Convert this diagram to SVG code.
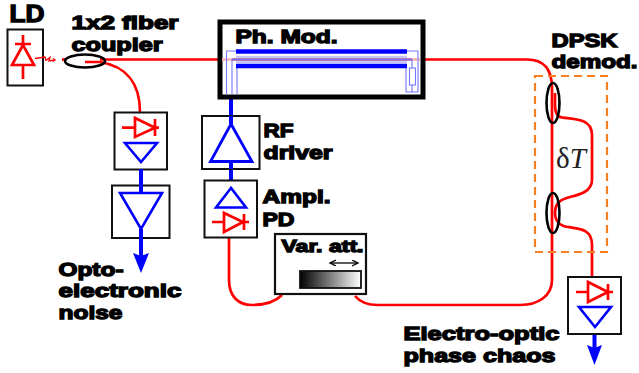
<svg xmlns="http://www.w3.org/2000/svg" width="639" height="373" viewBox="0 0 639 373">
<style>
.box{fill:#fff;stroke:#111;stroke-width:2}
.fr{fill:none;stroke:#f00;stroke-width:2.700}
.fb{fill:none;stroke:#00f;stroke-width:2.600}
.bb{fill:none;stroke:#00f;stroke-width:4}
.th{fill:none;stroke:#7577ff;stroke-width:1.100}
.cp{fill:none;stroke:#000;stroke-width:2.600}
.l{font-family:"Liberation Sans",Arial,sans-serif;font-weight:bold;font-size:18.500px;fill:#000;stroke:#000;stroke-width:1.300}
</style>
<defs>
<linearGradient id="g" x1="0" x2="1" y1="0" y2="0"><stop offset="0" stop-color="#000"/><stop offset="1" stop-color="#fff"/></linearGradient>
<marker id="ah" markerWidth="8" markerHeight="8" refX="6" refY="3" orient="auto-start-reverse" markerUnits="userSpaceOnUse"><path d="M0 0L6 3L0 6" fill="none" stroke="#000" stroke-width="1.300"/></marker>
</defs>
<g id="connectors">
<path class="fr" d="M100 59.500H527C543 59.500 552 68 552 88V280C552 296 538 305 520 305H378C367 305 360 302 355 296"/>
<path class="fr" d="M229 238V280C229 296 238 305 252 305C265 305 275 302 282 295"/>
<path class="fr" d="M85 62H100C125 66 140 82 140 112"/>
<path class="fr" d="M62 59.500H65"/>
<path class="fr" d="M555 93V105C555 113 558 117 562 117.500C578 119 592 120 592 135V180C592 192 578 195 570 197C562 199 555 202 555 213C555 221 560 226 568 227C582 229 592 230 592 245V278"/>
<path class="bb" d="M141 169V193M141 229V256"/>
<path d="M133 253L141 256L149 253L141 273Z" fill="#00f"/>
<path class="bb" d="M231 97V124M231 161V181"/>
<path class="bb" d="M594.500 334V348"/>
<path d="M587 345L594.500 348L602 345L594.500 365Z" fill="#00f"/>
</g>
<g id="ld">
<rect class="box" x="7.500" y="29.500" width="35.500" height="56"/>
<path class="fr" d="M23 35V45M15 44H31M23 45L12 65H34ZM23 65V79"/>
<path d="M35 58.500L45 57L46 60.500L50 57.500L49 61L55 60M53 58.500L55 60L53 61.500" fill="none" stroke="#f00" stroke-width="1.300"/>
<text class="l" x="9.500" y="22" style="font-size:23px" textLength="35" lengthAdjust="spacingAndGlyphs">LD</text>
</g>
<g id="coupler1">
<ellipse class="cp" cx="85" cy="61" rx="20" ry="6.500"/>
<text class="l" x="71.500" y="29" textLength="107" lengthAdjust="spacingAndGlyphs">1x2 fiber</text>
<text class="l" x="71.500" y="50.500" textLength="91" lengthAdjust="spacingAndGlyphs">coupler</text>
</g>
<g id="pd1">
<rect class="box" x="114.500" y="112.500" width="52.500" height="57"/>
<path class="fr" d="M122 127.700H135M135 118V137L155 127.700ZM155 119V136M155 127.700H159"/>
<path class="fb" d="M125 143H157L141 162Z"/>
</g>
<g id="amp1">
<rect class="box" x="112" y="185.500" width="57.500" height="52.500"/>
<path d="M141 169V193" class="bb"/>
<path class="fb" d="M120 193H162L141 229Z"/>
</g>
<g id="noise-label">
<path class="bb" d="M141 229V256"/>
<text class="l" x="58.500" y="276" textLength="65" lengthAdjust="spacingAndGlyphs">Opto-</text>
<text class="l" x="58.500" y="297" textLength="123" lengthAdjust="spacingAndGlyphs">electronic</text>
<text class="l" x="58.500" y="319" textLength="64" lengthAdjust="spacingAndGlyphs">noise</text>
</g>
<g id="modulator">
<rect x="220" y="22" width="203" height="75" fill="#fff" stroke="#000" stroke-width="5"/>
<path d="M222 59.500H420" stroke="#f7b0b0" stroke-width="2.500" fill="none"/>
<path d="M236 57H407M236 62H407" stroke="#c6c6ff" stroke-width="2.500" fill="none"/>
<path d="M232 59.500H412" stroke="#8a2a9a" stroke-width="2.200" fill="none"/>
<path class="th" d="M226.500 94V51H236M232 94V59.500H412V68M237 94V66M407 51H418V92H406V66M412 85V92"/>
<rect x="409.500" y="68" width="6" height="17" fill="#fff" stroke="#7577ff" stroke-width="1.100"/>
<path class="bb" d="M236 51.500H407M236 66H407" style="stroke-width:4.600"/>
<text class="l" x="235.500" y="43" textLength="102" lengthAdjust="spacingAndGlyphs">Ph. Mod.</text>
</g>
<g id="rf-driver">
<rect class="box" x="202" y="116" width="57.500" height="53"/>
<path class="bb" d="M231 116V124"/>
<path class="fb" d="M231 124L210.500 161.500H252Z" style="stroke-width:2.800"/>
<path class="bb" d="M231 161.500V169"/>
<text class="l" x="263.500" y="137" textLength="30" lengthAdjust="spacingAndGlyphs">RF</text>
<text class="l" x="263.500" y="159" textLength="69" lengthAdjust="spacingAndGlyphs">driver</text>
</g>
<g id="pd2">
<rect class="box" x="204.500" y="180.500" width="52.500" height="57"/>
<path class="fb" d="M231 188L216 207.500H246Z"/>
<path class="fr" d="M212 222H224M224 213V232L243 222ZM244 214V230M244 222H249"/>
<text class="l" x="262.500" y="203" textLength="68" lengthAdjust="spacingAndGlyphs">Ampl.</text>
<text class="l" x="262.500" y="226" textLength="32" lengthAdjust="spacingAndGlyphs">PD</text>
</g>
<g id="attenuator">
<rect x="275" y="234" width="91" height="60" fill="#fff" stroke="#111" stroke-width="2.200"/>
<rect x="300" y="271" width="61" height="17" fill="url(#g)" stroke="#111" stroke-width="1.800"/>
<path d="M330 263H358" stroke="#000" stroke-width="1.300" fill="none" marker-start="url(#ah)" marker-end="url(#ah)"/>
<text class="l" x="281.500" y="252" textLength="82" lengthAdjust="spacingAndGlyphs" style="font-size:17px">Var. att.</text>
</g>
<g id="demod">
<rect x="535" y="76" width="72" height="176" fill="none" stroke="#f77f1f" stroke-width="2.200" stroke-dasharray="8 5"/>
<ellipse class="cp" cx="553" cy="103" rx="6.500" ry="20"/>
<ellipse class="cp" cx="553" cy="213" rx="6.500" ry="20"/>
<text x="556" y="168" font-family="Liberation Serif,serif" font-size="29" fill="#222">δ<tspan font-style="italic">T</tspan></text>
<text class="l" x="551.500" y="47" textLength="66" lengthAdjust="spacingAndGlyphs">DPSK</text>
<text class="l" x="551.500" y="68" textLength="86" lengthAdjust="spacingAndGlyphs">demod.</text>
</g>
<g id="pd3">
<rect class="box" x="568" y="277" width="53" height="57"/>
<path class="fr" d="M576 292H588M588 282V302L608 292ZM608 284V300M608 292H613"/>
<path class="fb" d="M579 307H611L595 327Z"/>
<text class="l" x="403.500" y="340" textLength="156" lengthAdjust="spacingAndGlyphs">Electro-optic</text>
<text class="l" x="403.500" y="362" textLength="152" lengthAdjust="spacingAndGlyphs">phase chaos</text>
</g>
</svg>
